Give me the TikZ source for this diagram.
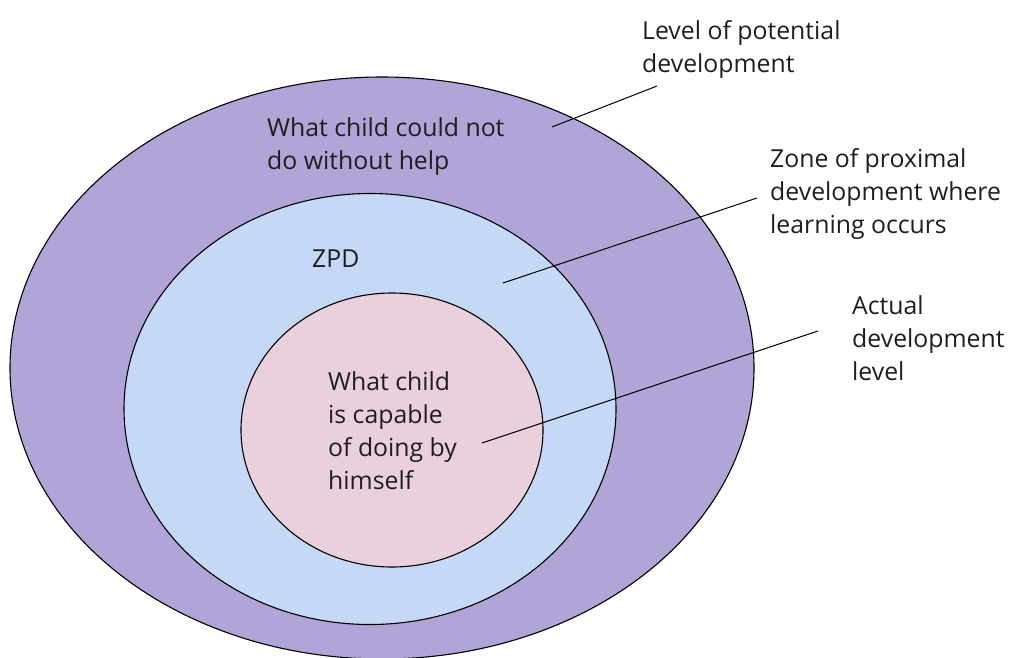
\documentclass[tikz,border=0pt]{standalone}
\usepackage{fontspec}
\setmainfont{Open Sans}
\usepackage{xcolor}
\usepackage{tikz}
\usetikzlibrary{shapes.geometric}

\definecolor{potentialpurple}{RGB}{177,164,214}
\definecolor{zpdblue}{RGB}{197,216,245}
\definecolor{actualpink}{RGB}{234,208,221}
\definecolor{textgray}{RGB}{30,30,30}

\begin{document}
\begin{tikzpicture}[x=1pt, y=-1pt, every node/.style={inner sep=0pt, text=textgray, font=\fontsize{24.8}{33}\selectfont}, ring/.style={ellipse, draw, line width=1.1pt}, caption/.style={anchor=base west, align=left}, pointer/.style={line width=1pt}]
\useasboundingbox (0,0) rectangle (1014,657);

\node(potential)[ring, fill=potentialpurple, minimum width=744pt, minimum height=582pt] at (382,368) {};
\node(zpd)[ring, fill=zpdblue, minimum width=492pt, minimum height=431pt] at (370,409) {};
\node(actual)[ring, fill=actualpink, minimum width=302pt, minimum height=274pt] at (392,430) {};

\node(withouthelp)[caption] at (267,169) {What child could not\\do without help};
\node(zpdtext)[caption] at (312,267) {ZPD};
\node(byhimself)[caption] at (328,489) {What child\\is capable\\of doing by\\himself};

\node(potentiallabel)[caption] at (642,72) {Level of potential\\development};
\node(zpdlabel)[caption] at (770,233) {Zone of proximal\\development where\\learning occurs};
\node(actuallabel)[caption] at (852,380) {Actual\\development\\level};

\coordinate(a1) at (552,127);
\coordinate(b1) at (657,86);
\coordinate(a2) at (503,283);
\coordinate(b2) at (757,198);
\coordinate(a3) at (482,443);
\coordinate(b3) at (818,331);

\draw[pointer] (a1) -- (b1);
\draw[pointer] (a2) -- (b2);
\draw[pointer] (a3) -- (b3);
\end{tikzpicture}
\end{document}
